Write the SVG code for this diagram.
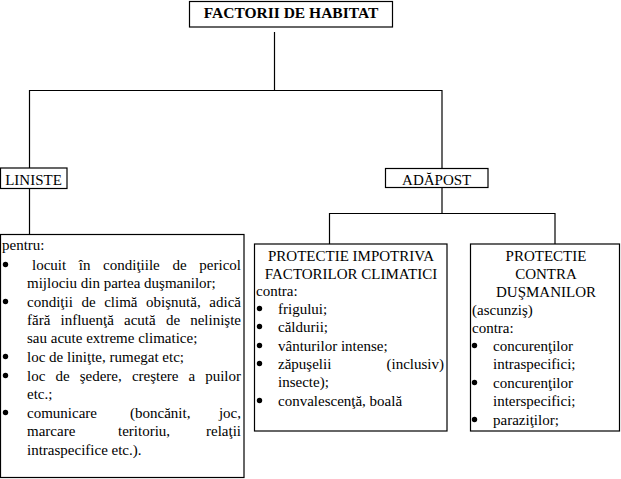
<svg xmlns="http://www.w3.org/2000/svg" width="621" height="479" viewBox="0 0 621 479">
<style>
rect{fill:#fff;stroke:#000;stroke-width:1.2}
.c line{stroke:#000;stroke-width:1.2}
text{font-family:"Liberation Serif",Tinos,"Times New Roman",Times,"Noto Serif","DejaVu Serif",FreeSerif,serif;font-size:15px;fill:#000}
.b{font-weight:bold;font-size:15.5px}
.m{text-anchor:middle}
.e{text-anchor:end}
circle{fill:#000}
</style>
<rect x="0" y="0" width="621" height="479" style="stroke:none"/>
<g class="c" id="connectors">
<line x1="274.5" y1="32" x2="274.5" y2="90.5"/>
<line x1="29.5" y1="90.5" x2="442" y2="90.5"/>
<line x1="29.5" y1="90" x2="29.5" y2="168"/>
<line x1="442" y1="90" x2="442" y2="168.5"/>
<line x1="29.5" y1="185" x2="29.5" y2="234"/>
<line x1="442" y1="187.5" x2="442" y2="213.5"/>
<line x1="329.5" y1="213.5" x2="555" y2="213.5"/>
<line x1="329.5" y1="213" x2="329.5" y2="244"/>
<line x1="555" y1="213" x2="555" y2="244"/>
</g>
<g id="factorii">
<rect x="189.5" y="1.5" width="203" height="25.5"/>
<text class="b m" x="291" y="18">FACTORII DE HABITAT</text>
</g>
<g id="liniste">
<rect x="0.5" y="168" width="66.5" height="20.5"/>
<text class="m" x="33.5" y="185">LINISTE</text>
</g>
<g id="adapost">
<rect x="385.5" y="168.5" width="102.5" height="19"/>
<text class="m" x="436.7" y="185">ADĂPOST</text>
</g>
<g id="liniste-detalii">
<rect x="0.5" y="234.5" width="243.5" height="243"/>
<text x="2" y="250">pentru:</text>
<circle cx="5.5" cy="264.5" r="2.7"/>
<text y="270"><tspan x="32">locuit</tspan><tspan x="78.8">în</tspan><tspan x="103.1">condiţiile</tspan><tspan x="172.4">de</tspan><tspan x="241" class="e">pericol</tspan></text>
<text x="27" y="288">mijlociu din partea duşmanilor;</text>
<circle cx="5.5" cy="301.5" r="2.7"/>
<text y="307"><tspan x="27">condiţii</tspan><tspan x="81.4">de</tspan><tspan x="104.2">climă</tspan><tspan x="146.1">obişnută,</tspan><tspan x="241" class="e">adică</tspan></text>
<text y="325"><tspan x="27">fără</tspan><tspan x="60.5">influenţă</tspan><tspan x="124">acută</tspan><tspan x="165.9">de</tspan><tspan x="241" class="e">nelinişte</tspan></text>
<text x="27" y="343">sau acute extreme climatice;</text>
<circle cx="5.5" cy="356.5" r="2.7"/>
<text x="27" y="362">loc de liniţte, rumegat etc;</text>
<circle cx="5.5" cy="375.5" r="2.7"/>
<text y="381"><tspan x="27">loc</tspan><tspan x="55.4">de</tspan><tspan x="79.7">şedere,</tspan><tspan x="131.9">creştere</tspan><tspan x="188.5">a</tspan><tspan x="241" class="e">puilor</tspan></text>
<text x="27" y="399">etc.;</text>
<circle cx="5.5" cy="412.5" r="2.7"/>
<text y="418"><tspan x="27">comunicare</tspan><tspan x="130">(boncănit,</tspan><tspan x="241" class="e">joc,</tspan></text>
<text y="436"><tspan x="27">marcare</tspan><tspan x="118">teritoriu,</tspan><tspan x="241" class="e">relaţii</tspan></text>
<text x="27" y="455">intraspecifice etc.).</text>
</g>
<g id="protectie-climatici">
<rect x="254.5" y="244" width="192.5" height="187"/>
<text class="m" x="351" y="261">PROTECTIE IMPOTRIVA</text>
<text class="m" x="351" y="279">FACTORILOR CLIMATICI</text>
<text x="256" y="296">contra:</text>
<circle cx="259.5" cy="308.5" r="2.7"/>
<text x="278" y="314">frigului;</text>
<circle cx="259.5" cy="326.5" r="2.7"/>
<text x="278" y="332">căldurii;</text>
<circle cx="259.5" cy="345.5" r="2.7"/>
<text x="278" y="351">vânturilor intense;</text>
<circle cx="259.5" cy="363.5" r="2.7"/>
<text y="369"><tspan x="278">zăpuşelii</tspan><tspan x="444" class="e">(inclusiv)</tspan></text>
<text x="278" y="387">insecte);</text>
<circle cx="259.5" cy="400.5" r="2.7"/>
<text x="278" y="406">convalescenţă, boală</text>
</g>
<g id="protectie-dusmani">
<rect x="470.5" y="244" width="149" height="187"/>
<text class="m" x="546" y="261">PROTECTIE</text>
<text class="m" x="546" y="279">CONTRA</text>
<text class="m" x="546" y="297">DUŞMANILOR</text>
<text x="472" y="315">(ascunziş)</text>
<text x="472" y="333">contra:</text>
<circle cx="474.5" cy="345.5" r="2.7"/>
<text x="493" y="351">concurenţilor</text>
<text x="493" y="369">intraspecifici;</text>
<circle cx="474.5" cy="382.5" r="2.7"/>
<text x="493" y="388">concurenţilor</text>
<text x="493" y="406">interspecifici;</text>
<circle cx="474.5" cy="419.5" r="2.7"/>
<text x="493" y="425">paraziţilor;</text>
</g>
</svg>
